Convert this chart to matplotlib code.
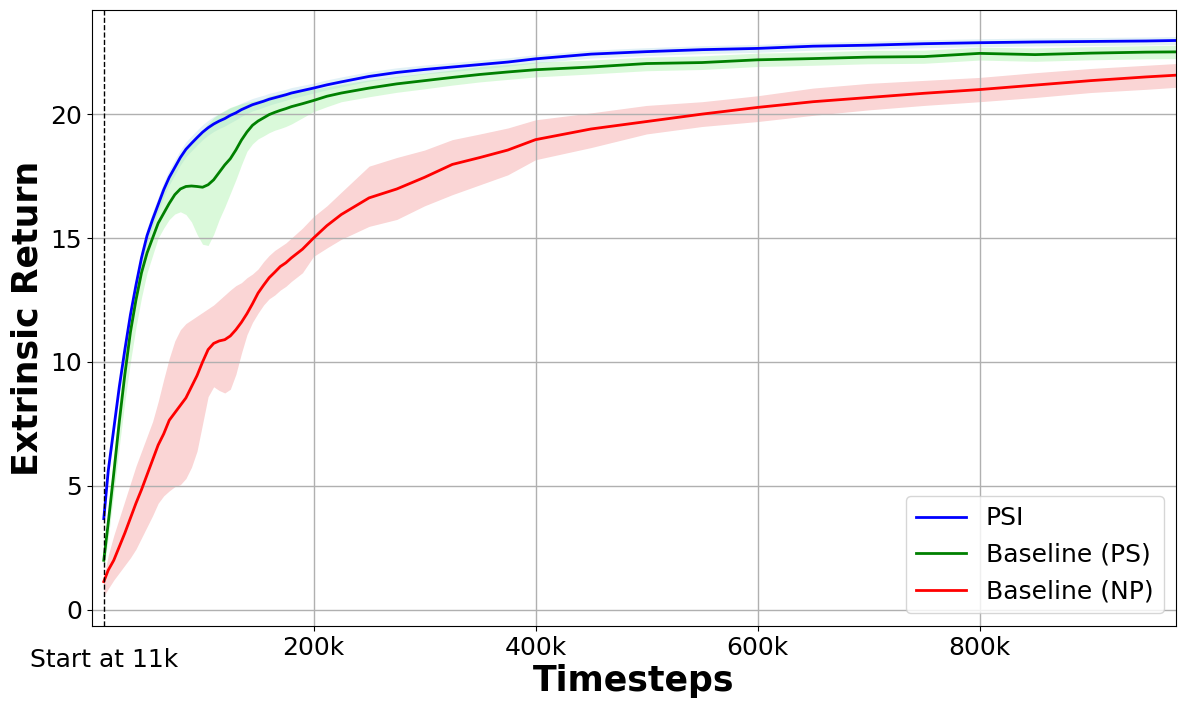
import matplotlib
matplotlib.use("Agg")
import matplotlib.pyplot as plt
import numpy as np

# timesteps (in thousands), shared by all runs
steps_k = [11, 15, 20, 25, 30, 35, 40, 45, 50, 55,
           60, 65, 70, 75, 80, 85, 90, 95, 100, 105, 110, 115, 120, 125,
           130, 135, 140, 145, 150, 155, 160, 165, 170, 175, 180, 190,
           200, 212, 225, 250, 275, 300, 325, 350, 375, 400,
           450, 500, 550, 600, 650, 700, 750, 800, 850, 900, 950, 977]

# PSI: mean and half width of the shaded band
psi_mean = [3.68, 5.6, 7.3, 9.0, 10.5, 11.9, 13.1, 14.2, 15.1, 15.75,
            16.35, 16.95, 17.45, 17.85, 18.25, 18.58, 18.82, 19.05, 19.27, 19.45, 19.6, 19.72, 19.82, 19.95,
            20.05, 20.18, 20.28, 20.38, 20.45, 20.52, 20.6, 20.66, 20.72, 20.78, 20.85, 20.95,
            21.05, 21.18, 21.3, 21.52, 21.68, 21.8, 21.9, 22.0, 22.1, 22.23,
            22.42, 22.52, 22.6, 22.65, 22.74, 22.78, 22.84, 22.88, 22.91, 22.93, 22.95, 22.97]
psi_spread = [0.08, 0.2, 0.25, 0.3, 0.3, 0.3, 0.3, 0.3, 0.3, 0.3,
              0.3, 0.3, 0.3, 0.3, 0.3, 0.3, 0.3, 0.3, 0.3, 0.3, 0.3, 0.3, 0.3, 0.3,
              0.28, 0.27, 0.26, 0.25, 0.25, 0.24, 0.24, 0.23, 0.23, 0.22, 0.22, 0.21,
              0.2, 0.2, 0.2, 0.19, 0.19, 0.18, 0.18, 0.18, 0.17, 0.17,
              0.16, 0.16, 0.16, 0.16, 0.16, 0.16, 0.16, 0.16, 0.16, 0.16, 0.16, 0.16]

# Baseline (PS)
ps_mean = [2.0, 3.5, 5.5, 7.6, 9.5, 11.2, 12.5, 13.6, 14.4, 15.0,
           15.6, 16.0, 16.4, 16.75, 16.98, 17.08, 17.1, 17.08, 17.05, 17.15, 17.35, 17.65, 17.95, 18.2,
           18.55, 18.95, 19.28, 19.55, 19.72, 19.85, 19.98, 20.07, 20.15, 20.22, 20.3, 20.42,
           20.55, 20.72, 20.85, 21.05, 21.22, 21.35, 21.48, 21.6, 21.7, 21.79,
           21.9, 22.04, 22.08, 22.19, 22.24, 22.3, 22.32, 22.45, 22.4, 22.46, 22.5, 22.51]
ps_lo = [1.6, 2.9, 4.7, 6.6, 8.4, 10.0, 11.4, 12.6, 13.6, 14.3,
         15.0, 15.4, 15.75, 15.97, 16.06, 15.95, 15.65, 15.15, 14.75, 14.7, 15.15, 15.75, 16.25, 16.8,
         17.35, 17.95, 18.5, 18.8, 19.0, 19.12, 19.25, 19.35, 19.42, 19.5, 19.6, 19.85,
         20.1, 20.3, 20.5, 20.7, 20.88, 21.02, 21.17, 21.3, 21.4, 21.5,
         21.62, 21.75, 21.8, 21.92, 21.97, 22.03, 22.05, 22.18, 22.13, 22.19, 22.23, 22.24]
ps_hi = [2.3, 4.0, 6.2, 8.4, 10.4, 11.9, 13.1, 14.1, 15.0, 15.7,
         16.5, 17.0, 17.5, 17.9, 18.3, 18.62, 18.88, 19.1, 19.35, 19.62, 19.85, 20.02, 20.15, 20.27,
         20.35, 20.42, 20.48, 20.52, 20.56, 20.62, 20.72, 20.78, 20.83, 20.86, 20.9, 20.96,
         21.0, 21.1, 21.2, 21.38, 21.52, 21.65, 21.78, 21.92, 22.0, 22.1,
         22.18, 22.3, 22.35, 22.46, 22.5, 22.57, 22.58, 22.7, 22.67, 22.72, 22.76, 22.78]

# Baseline (NP)
np_mean = [1.14, 1.6, 2.0, 2.55, 3.1, 3.7, 4.3, 4.85, 5.45, 6.05,
           6.65, 7.1, 7.65, 7.95, 8.25, 8.55, 9.0, 9.45, 10.0, 10.5, 10.75, 10.85, 10.9, 11.05,
           11.3, 11.6, 11.95, 12.35, 12.78, 13.1, 13.4, 13.62, 13.85, 14.0, 14.2, 14.55,
           15.0, 15.5, 15.95, 16.62, 16.98, 17.45, 17.97, 18.25, 18.55, 18.97,
           19.4, 19.7, 20.0, 20.27, 20.5, 20.67, 20.84, 20.99, 21.17, 21.35, 21.5, 21.57]
np_lo = [0.55, 0.85, 1.2, 1.5, 1.8, 2.1, 2.45, 2.9, 3.35, 3.8,
         4.3, 4.6, 4.8, 4.97, 5.05, 5.3, 5.75, 6.4, 7.5, 8.6, 9.0, 8.85, 8.75, 8.9,
         9.5, 10.35, 11.1, 11.6, 11.97, 12.3, 12.55, 12.7, 12.9, 13.05, 13.25, 13.6,
         14.26, 14.6, 14.95, 15.47, 15.75, 16.3, 16.75, 17.15, 17.55, 18.16,
         18.65, 19.2, 19.5, 19.7, 19.95, 20.17, 20.35, 20.5, 20.67, 20.87, 21.0, 21.08]
np_hi = [1.3, 2.2, 3.0, 3.7, 4.4, 5.1, 5.8, 6.4, 7.0, 7.6,
         8.4, 9.3, 10.15, 10.85, 11.3, 11.55, 11.7, 11.85, 12.0, 12.15, 12.3, 12.5, 12.7, 12.9,
         13.08, 13.2, 13.4, 13.55, 13.75, 14.05, 14.3, 14.5, 14.65, 14.8, 15.0, 15.4,
         15.87, 16.3, 16.85, 17.9, 18.25, 18.55, 18.97, 19.2, 19.44, 19.77,
         20.05, 20.35, 20.5, 20.74, 21.05, 21.24, 21.36, 21.48, 21.67, 21.84, 21.97, 22.04]

start_step = 11000
xtick_vals = [200000, 400000, 600000, 800000]
xtick_labels = ['200k', '400k', '600k', '800k']

x = np.array(steps_k) * 1000
psi_mean = np.array(psi_mean)
psi_spread = np.array(psi_spread)

fig, ax = plt.subplots(figsize=(11.86, 7.09), dpi=100)
fig.subplots_adjust(left=0.0772, right=0.9916, bottom=0.1171, top=0.9859)

ax.fill_between(x, psi_mean - psi_spread, psi_mean + psi_spread, color='lightblue', alpha=0.35, linewidth=0)
ax.fill_between(x, ps_lo, ps_hi, color='lightgreen', alpha=0.33, linewidth=0)
ax.fill_between(x, np_lo, np_hi, color='lightcoral', alpha=0.33, linewidth=0)
ax.plot(x, psi_mean, color='blue', lw=2, label='PSI')
ax.plot(x, ps_mean, color='green', lw=2, label='Baseline (PS)')
ax.plot(x, np_mean, color='red', lw=2, label='Baseline (NP)')

ax.axvline(start_step, color='black', ls='--', lw=1)

ax.set_xlim(0, 977000)
ax.set_ylim(-0.65, 24.2)
ax.set_xticks(xtick_vals, xtick_labels)
ax.set_xticks([start_step], ['Start at 11k'], minor=True)
ax.tick_params(axis='both', which='major', labelsize=18)
ax.tick_params(axis='x', which='minor', labelsize=18, length=0, pad=16)
ax.set_yticks([0, 5, 10, 15, 20])
ax.grid(True, which='major', color='#b0b0b0', lw=1)

ax.set_xlabel('Timesteps', fontsize=25, fontweight='bold', labelpad=-6)
ax.set_ylabel('Extrinsic Return', fontsize=25, fontweight='bold')
ax.legend(loc='lower right', fontsize=18)

fig.savefig('out.png')
